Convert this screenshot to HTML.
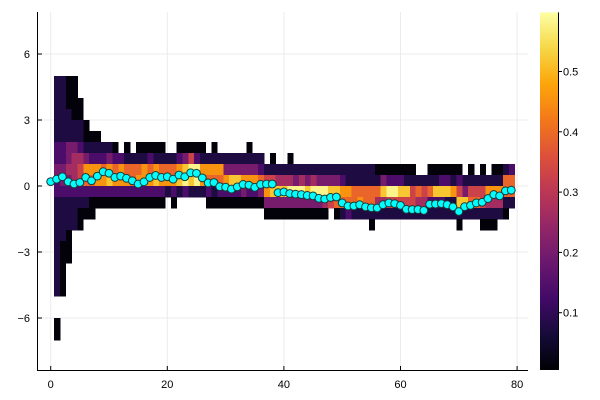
<!DOCTYPE html>
<html><head><meta charset="utf-8"><style>
html,body{margin:0;padding:0;background:#fff;}
svg{display:block;font-family:"Liberation Sans","DejaVu Sans",sans-serif;}
</style></head><body>
<svg id="chart" width="600" height="400" viewBox="0 0 600 400"></svg>
<script>
// ---- data ----
const xTicks=[0,20,40,60,80];
const yTicks=[6,3,0,-3,-6];
const yTickLabels=["6","3","0","\u22123","\u22126"];
const cbTicks=[0.1,0.2,0.3,0.4,0.5];
// heatmap: per column (x bin j=0..78) top row index and intensity digits (0-9, '.'=empty), rows are 0.5 wide starting at y=5
const colTop=[0,0,0,0,2,4,5,5,6,6,6,7,6,7,6,6,6,6,6,7,7,6,6,6,6,6,7,6,7,7,7,7,7,6,7,7,8,7,8,8,7,8,8,8,8,8,8,8,8,8,8,8,8,8,8,8,8,8,8,8,8,8,9,9,8,8,8,8,8,8,9,8,9,8,9,8,8,8,8];
const colCells=["11111122322111111111..00","11111122332111100000","00011133432111000","00001134442111","001124552100","001376210","01276200","0127720","126720","137820","026720","27720","016720","16620","016720","017720","026720","017820","016720","1671","16720","02781","03892","05981","02991","01771","17620","017610","17620","13720","13820","13820","13730","013720","13720","12630","15730","015830","14830","14830","014930","13930","14930","13830","14930","13930","13940","1385","13860","12761","11762","11661","11671","11661","116610","01641","03841","02951","02951","02851","01851","01551","1641","1541","01621","01821","02821","02811","01711","025810","1381","01561","1561","015510","17410","017410","01741","16610","2661"];
// mean values shown as scatter points, x = 0..79
const meanVals=[0.2,0.31,0.42,0.19,0.09,0.16,0.39,0.24,0.45,0.65,0.58,0.39,0.45,0.35,0.24,0.09,0.19,0.39,0.48,0.39,0.42,0.31,0.5,0.42,0.6,0.58,0.37,0.14,0.16,-0.03,-0.05,-0.14,-0.04,0.07,0.04,-0.06,0.07,0.09,0.09,-0.3,-0.27,-0.34,-0.37,-0.39,-0.43,-0.45,-0.56,-0.59,-0.52,-0.5,-0.77,-0.91,-0.91,-0.85,-0.95,-0.99,-1.0,-0.85,-0.77,-0.8,-0.88,-1.06,-1.07,-1.07,-1.11,-0.83,-0.82,-0.8,-0.85,-0.95,-1.16,-0.94,-0.88,-0.77,-0.74,-0.57,-0.39,-0.45,-0.22,-0.19];

// ---- scales ----
const X0=50.7, XS=5.83, Y0=186, YS=22;
const sx=v=>X0+v*XS, sy=v=>Y0-v*YS;
const CB0=373, CBS=603;
const cby=v=>CB0-v*CBS;
const infStops=["#000004","#160b39","#420a68","#6a176e","#932667","#bc3754","#dd513a","#f37819","#fca50a","#f6d746","#fcffa4"];
function hex(c){return [1,3,5].map(i=>parseInt(c.substr(i,2),16));}
function inferno(t){t=Math.max(0,Math.min(1,t));const p=t*10,i=Math.min(9,Math.floor(p)),f=p-i;const a=hex(infStops[i]),b=hex(infStops[i+1]);return "rgb("+a.map((v,k)=>Math.round(v+(b[k]-v)*f)).join(",")+")";}
const VMIN=0.005,VMAX=0.598;
const digitVal=d=>0.012+d*0.0633;
const color=v=>inferno((v-VMIN)/(VMAX-VMIN));

const svg=document.getElementById('chart');
const NS="http://www.w3.org/2000/svg";
function el(tag,attrs,parent){const e=document.createElementNS(NS,tag);for(const k in attrs)e.setAttribute(k,attrs[k]);(parent||svg).appendChild(e);return e;}

// grid
const grid=el('g',{});


xTicks.forEach(t=>{el('line',{x1:sx(t),x2:sx(t),y1:12,y2:371,stroke:'#ebebeb','stroke-width':1},grid);});
yTicks.forEach(t=>{el('line',{x1:37,x2:528,y1:sy(t),y2:sy(t),stroke:'#ebebeb','stroke-width':1},grid);});

// heatmap
const hm=el('g',{'shape-rendering':'crispEdges'});


colCells.forEach((s,j)=>{
  const xl=sx(j+0.6), xr=sx(j+1.6);
  for(let k=0;k<s.length;k++){
    const ch=s[k]; if(ch==='.')continue;
    const i=colTop[j]+k;
    const yt=sy(5-0.5*i), yb=sy(5-0.5*(i+1));
    const r=el('rect',{x:xl,y:yt,width:xr-xl+0.3,height:yb-yt+0.3,fill:color(digitVal(+ch))},hm);
    
    
  }
});

// scatter
const sc=el('g',{});


meanVals.forEach((v,x)=>{
  const c=el('circle',{cx:sx(x),cy:sy(v),r:3.9,fill:'#00ffff',stroke:'#1a3a3a','stroke-width':1},sc);
  
  
});

// axes
const ax=el('g',{stroke:'#000','stroke-width':1});


el('line',{x1:37.5,x2:37.5,y1:12,y2:371},ax);
el('line',{x1:37,x2:528,y1:370.5,y2:370.5},ax);
const lbl=el('g',{fill:'#000','font-size':'11'});
xTicks.forEach(t=>{
  el('line',{x1:sx(t),x2:sx(t),y1:370,y2:366},ax);
  const tx=el('text',{x:sx(t),y:388,'text-anchor':'middle'},lbl);tx.textContent=t;
  
  
});
yTicks.forEach((t,i)=>{
  el('line',{x1:38,x2:42,y1:sy(t),y2:sy(t)},ax);
  const tx=el('text',{x:30,y:sy(t)+4,'text-anchor':'end'},lbl);tx.textContent=yTickLabels[i];
  
  
});

// colorbar
const cb=el('g',{});


const defs=el('defs',{});
const lg=el('linearGradient',{id:'cbg',x1:0,y1:1,x2:0,y2:0},defs);
for(let i=0;i<=20;i++){const t=i/20;el('stop',{offset:t,'stop-color':inferno(t)},lg);}
el('rect',{x:540,y:cby(VMAX),width:18,height:cby(VMIN)-cby(VMAX),fill:'url(#cbg)'},cb);
el('line',{x1:558.5,x2:558.5,y1:cby(VMAX),y2:cby(VMIN),stroke:'#000','stroke-width':1},cb);
cbTicks.forEach(t=>{
  el('line',{x1:558,x2:562,y1:cby(t),y2:cby(t),stroke:'#000'},cb);
  const tx=el('text',{x:563,y:cby(t)+4,'font-size':'11',fill:'#000'},cb);tx.textContent=t.toFixed(1);
  
  
});
</script>
</body></html>
